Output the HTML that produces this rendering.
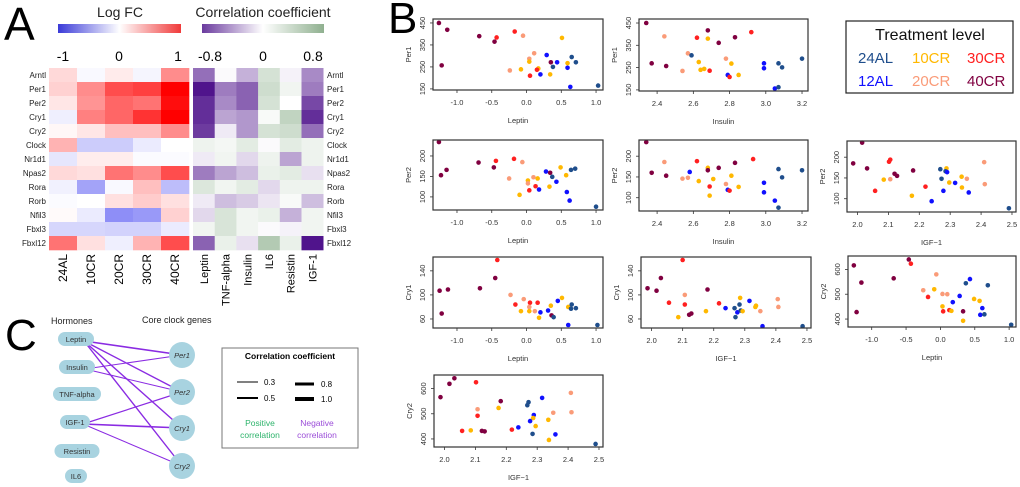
<!DOCTYPE html>
<html><head><meta charset="utf-8"><style>
html,body{margin:0;padding:0;background:#fff;}
svg{display:block;font-family:"Liberation Sans","DejaVu Sans",sans-serif;}
</style></head><body>
<svg id="fig" width="1020" height="487" viewBox="0 0 1020 487" xmlns="http://www.w3.org/2000/svg">
<defs>
<linearGradient id="gfc" x1="0" x2="1"><stop offset="0" stop-color="#3a3ad8"/><stop offset="0.5" stop-color="#ffffff"/><stop offset="1" stop-color="#f03a3a"/></linearGradient>
<linearGradient id="gcor" x1="0" x2="1"><stop offset="0" stop-color="#6a3a9e"/><stop offset="0.5" stop-color="#ffffff"/><stop offset="1" stop-color="#8fb08f"/></linearGradient>
</defs>
<g id="panelA">
<text x="4" y="40" font-size="46">A</text>
<text x="120" y="17" font-size="14" text-anchor="middle" fill="#222">Log FC</text>
<text x="263" y="17" font-size="14" text-anchor="middle" fill="#222">Correlation coefficient</text>
<rect x="58" y="24" width="123" height="9" fill="url(#gfc)"/>
<rect x="202" y="24" width="122" height="9" fill="url(#gcor)"/>
<text x="63" y="61" font-size="14" text-anchor="middle">-1</text>
<text x="119" y="61" font-size="14" text-anchor="middle">0</text>
<text x="178" y="61" font-size="14" text-anchor="middle">1</text>
<text x="210" y="61" font-size="14" text-anchor="middle">-0.8</text>
<text x="263" y="61" font-size="14" text-anchor="middle">0</text>
<text x="313" y="61" font-size="14" text-anchor="middle">0.8</text>
</g>
<g id="panelB">
<text x="388" y="33" font-size="44">B</text>
<rect x="846" y="21" width="167" height="72" fill="#fff" stroke="#222" stroke-width="1.2"/>
<text x="930" y="40" font-size="16" text-anchor="middle" fill="#111">Treatment level</text>
<text x="858" y="63" font-size="15" fill="#1f4e8c">24AL</text>
<text x="912" y="63" font-size="15" fill="#ffb800">10CR</text>
<text x="967" y="63" font-size="15" fill="#ff2020">30CR</text>
<text x="858" y="86" font-size="15" fill="#1010ff">12AL</text>
<text x="912" y="86" font-size="15" fill="#fa9b78">20CR</text>
<text x="967" y="86" font-size="15" fill="#800040">40CR</text>
</g>
<g id="panelC">
<text x="5" y="350" font-size="44">C</text>
<text x="51" y="324" font-size="9" fill="#222">Hormones</text>
<text x="142" y="323" font-size="9" fill="#222">Core clock genes</text>
<rect x="222" y="348" width="136" height="100" fill="#fff" stroke="#777" stroke-width="1"/>
<text x="290" y="359" font-size="8.5" font-weight="bold" text-anchor="middle">Correlation coefficient</text>
<line x1="237" y1="382" x2="258" y2="382" stroke="#000" stroke-width="1"/>
<line x1="237" y1="398" x2="258" y2="398" stroke="#000" stroke-width="2"/>
<line x1="295" y1="384" x2="314" y2="384" stroke="#000" stroke-width="3"/>
<line x1="295" y1="399" x2="314" y2="399" stroke="#000" stroke-width="4"/>
<text x="264" y="385" font-size="8">0.3</text>
<text x="264" y="401" font-size="8">0.5</text>
<text x="321" y="387" font-size="8">0.8</text>
<text x="321" y="402" font-size="8">1.0</text>
<text x="260" y="426" font-size="8.5" fill="#2db36b" text-anchor="middle">Positive</text>
<text x="260" y="438" font-size="8.5" fill="#2db36b" text-anchor="middle">correlation</text>
<text x="317" y="426" font-size="8.5" fill="#9b4dd8" text-anchor="middle">Negative</text>
<text x="317" y="438" font-size="8.5" fill="#9b4dd8" text-anchor="middle">correlation</text>
</g>
</svg>
<script>
var NS="http://www.w3.org/2000/svg";
var svg=document.getElementById('fig');
function mk(tag,attrs,parent){var e=document.createElementNS(NS,tag);for(var k in attrs)e.setAttribute(k,attrs[k]);(parent||svg).appendChild(e);return e;}

// ===== Panel A data =====
var genes=["Arntl","Per1","Per2","Cry1","Cry2","Clock","Nr1d1","Npas2","Rora","Rorb","Nfil3","Fbxl3","Fbxl12"];
var groupsA=["24AL","10CR","20CR","30CR","40CR"];
var hormonesA=["Leptin","TNF-alpha","Insulin","IL6","Resistin","IGF-1"];
var logFC=[
[0.15,-0.03,0.08,-0.05,0.45],
[0.18,0.45,0.7,0.75,1.0],
[0.1,0.42,0.6,0.55,0.95],
[-0.08,0.5,0.6,0.8,1.0],
[0.03,0.1,0.25,0.25,0.45],
[0.3,-0.25,-0.25,-0.1,0],
[-0.12,0.07,0.07,-0.02,-0.02],
[0.15,0.12,0.55,0.45,0.7],
[-0.07,-0.45,-0.03,0.25,-0.32],
[-0.02,0,0.12,0.2,0.12],
[0.02,-0.1,-0.55,-0.5,0.18],
[-0.2,-0.2,-0.22,-0.22,-0.1],
[0.55,0.12,-0.08,0.3,0.7]];
var corr=[
[-0.55,-0.02,-0.3,0.3,-0.05,-0.45],
[-0.9,-0.5,-0.6,0.35,0.1,-0.5],
[-0.8,-0.45,-0.6,0.3,0,-0.7],
[-0.8,-0.35,-0.4,0.05,0.45,-0.8],
[-0.75,-0.08,-0.4,0.3,0.35,-0.55],
[0.12,0.08,0.2,-0.02,0.2,0.12],
[-0.08,0.1,-0.15,0.12,-0.35,0.12],
[-0.5,-0.35,-0.25,0.15,0.2,-0.12],
[0.25,0.1,0.2,-0.15,0.12,0.12],
[-0.08,-0.25,-0.2,-0.1,0.05,-0.25],
[-0.15,0.28,0.1,0.15,-0.3,0.1],
[0.1,0.28,0.1,-0.02,-0.05,0.1],
[-0.6,0.15,-0.12,0.55,0.15,-0.9]];

function mix(a,b,t){return 'rgb('+a.map(function(v,i){return Math.round(v+(b[i]-v)*t);}).join(',')+')';}
function fcColor(v){var t=Math.min(1,Math.abs(v));return v<0?mix([255,255,255],[50,50,240],t):mix([255,255,255],[255,0,0],t);}
function corColor(v){var t=Math.min(1,Math.abs(v)/0.9);return v<0?mix([255,255,255],[80,20,140],t):mix([255,255,255],[130,168,130],t);}

var gA=document.getElementById('panelA');
var hmTop=68,rowH=14,lx0=49,lcw=28,rx0=193,rcw=21.7;
genes.forEach(function(g,r){
  var y=hmTop+r*rowH;
  var t=mk('text',{x:46,y:y+10,'font-size':8,'text-anchor':'end',fill:'#222'},gA);t.textContent=g;
  
  
  var t2=mk('text',{x:327,y:y+10,'font-size':8,fill:'#222'},gA);t2.textContent=g;
  
  
  logFC[r].forEach(function(v,c){
    var e=mk('rect',{x:lx0+c*lcw,y:y,width:lcw+0.3,height:rowH+0.3,fill:fcColor(v)},gA);
    
    
  });
  corr[r].forEach(function(v,c){
    var e=mk('rect',{x:rx0+c*rcw,y:y,width:rcw+0.3,height:rowH+0.3,fill:corColor(v)},gA);
    
    
  });
});
groupsA.forEach(function(g,c){
  var x=lx0+c*lcw+lcw/2+4;
  var t=mk('text',{x:x,y:254,'font-size':12,'text-anchor':'end',transform:'rotate(-90 '+x+' 254)'},gA);t.textContent=g;
  
  
});
hormonesA.forEach(function(g,c){
  var x=rx0+c*rcw+rcw/2+4;
  var t=mk('text',{x:x,y:254,'font-size':11,'text-anchor':'end',transform:'rotate(-90 '+x+' 254)'},gA);t.textContent=g;
  
  
});

// ===== Panel B data =====
var colorMap={A:'#1f4e8c',B:'#1010ff',Y:'#ffb800',S:'#fa9b78',R:'#ff2020',M:'#800040'};
// group codes: A=24AL, B=12AL, Y=10CR, S=20CR, R=30CR, M=40CR
var p1x=[-1.26,-1.14,-0.68,-0.46,-1.22,-0.43,-0.17,-0.05,0.51,0.11,0.04,0.04,0.29,0.65,0.35,0.44,0.71,0.59,0.38,0.59,0.17,0.15,-0.24,-0.08,0.2,0.34,0.05,0.63,1.03];
var p1y=[450,419,390,365,257,384,411,392,382,312,287,274,304,295,271,271,271,267,250,246,243,237,234,239,216,216,210,159,165];
var p1g="MMMMMRRSYSSYBAMBAYABYRSYBYRBA";
var p2x=[2.34,2.37,2.45,2.44,2.62,2.68,2.68,2.74,2.83,2.92,2.57,2.59,2.63,2.78,2.81,2.54,2.64,2.66,2.69,2.79,2.80,2.85,2.99,2.99,3.07,3.09,3.20,3.05,3.07];
var p2y=[450,269,257,390,384,417,380,361,386,409,314,305,275,290,268,235,240,244,236,217,208,217,269,247,269,251,290,156,162];
var p2g="MMMSRMYMMRSAYSYSYYRBRYBBAAABA";
var p3x=[-1.26,-1.23,-1.15,-0.69,-0.47,-0.44,-0.18,-0.06,0.49,0.64,0.70,0.57,0.28,0.34,0.37,0.10,0.16,-0.25,0.02,0.02,0.43,0.13,0.33,0.04,0.18,-0.10,0.58,0.62,1.0];
var p3y=[234,153,166,184,172,188,193,185,172,166,169,153,162,159,149,148,145,145,140,133,137,126,125,116,118,105,112,91,76];
var p3g="MMMMMRRSYAAYBMASYSYSBRYRBYBBA";
var p4x=[2.34,2.37,2.45,2.44,2.62,2.83,2.93,3.07,3.20,3.09,2.58,2.68,2.74,2.54,2.57,2.63,2.71,2.78,2.81,2.69,2.85,2.79,2.80,2.69,2.99,2.99,3.05,3.07,2.68];
var p4y=[234,160,153,186,188,184,193,169,166,149,162,172,172,146,148,140,145,133,153,127,126,119,117,105,136,113,93,76,166];
var p4g="MMMSRMRAAABYMSSYYSYRYBRYBBBAM";
var p5x=[2.015,1.986,2.031,2.106,2.102,2.085,2.106,2.057,2.12,2.128,2.18,2.22,2.176,2.268,2.288,2.285,2.29,2.272,2.297,2.316,2.337,2.354,2.338,2.278,2.24,2.36,2.41,2.412,2.49];
var p5y=[235,185,173,194,189,146,147,119,160,155,168,129,107,171,173,166,164,148,139,138,153,148,127,119,94,115,188,135,77];
var p5g="MMMRRYSRMMMRYAYABAYBYSYBBBSSA";
var p6x=[-0.42,-0.45,-1.25,-1.13,-0.67,-1.22,-0.23,-0.04,0.51,0.45,-0.16,0.05,0.16,0.04,0.35,0.60,0.65,0.64,0.71,-0.08,0.04,0.12,0.31,0.2,0.18,0.36,0.39,0.60,1.02];
var p6y=[158,128,107,109,111,69,100,93,95,90,84,87,87,80,82,80,84,77,78,73,73,73,74,71,62,66,63,50,50];
var p6g="RMMMMMSSYBRRRSYYAAAYYSBBYMABA";
var p7x=[2.10,2.03,1.987,2.016,2.18,2.107,2.056,2.107,2.217,2.285,2.315,2.283,2.406,2.408,2.336,2.334,2.35,2.238,2.267,2.175,2.276,2.287,2.293,2.121,2.128,2.086,2.27,2.357,2.486];
var p7y=[158,128,111,107,109,100,87,84,86,95,90,84,93,80,82,80,73,78,78,73,71,74,73,67,69,63,63,48,48];
var p7g="RMMMMSRRRYBASSYYSBAYBAYMMYABA";
var p8x=[-1.26,-1.15,-1.22,-0.68,-0.46,-0.43,-0.06,-0.25,-0.09,-0.18,0.03,0.10,0.03,0.04,0.13,0.16,0.33,0.33,0.18,0.28,0.37,0.43,0.49,0.57,0.61,0.58,0.64,0.69,1.03];
var p8y=[616,547,428,564,640,623,580,516,520,489,501,500,451,431,436,433,431,393,468,493,544,561,481,473,444,417,419,536,377];
var p8g="MMMMMRSSYRSSYRRYMYBBABYYBBAAA";
var p9x=[1.987,2.016,2.032,2.102,2.107,2.107,2.175,2.182,2.057,2.085,2.121,2.13,2.218,2.239,2.268,2.272,2.316,2.289,2.287,2.277,2.295,2.285,2.336,2.352,2.409,2.411,2.359,2.338,2.489];
var p9y=[566,619,641,625,518,492,523,550,432,434,432,430,437,446,534,546,563,495,483,471,451,420,476,504,583,506,418,396,380];
var p9g="MMMRSRYMRYMMRBAABBYBYAYSSSBYA";

var leptinTicks=[-1.0,-0.5,0.0,0.5,1.0];
var insulinTicks=[2.4,2.6,2.8,3.0,3.2];
var igfTicks=[2.0,2.1,2.2,2.3,2.4,2.5];
var per1Ticks=[150,250,350,450];
var per2Ticks=[100,150,200];
var cry1Ticks=[60,100,140];
var cry2Ticks=[400,500,600];

var leptinLim=[-1.345,1.10], insulinLim=[2.30,3.233], igfLim=[1.966,2.513];
var per1Lim=[145,468], per2Lim=[68,239], cry1Lim=[45,163], cry2Lim=[368,654];

var gB=document.getElementById('panelB');
function scatter(id,box,xl,yl,xt,yt,xlab,ylab,xs,ys,gs){
  var g=mk('g',{},gB);
  
  
  function sx(v){return box[0]+(v-xl[0])/(xl[1]-xl[0])*box[2];}
  function sy(v){return box[1]+box[3]-(v-yl[0])/(yl[1]-yl[0])*box[3];}
  xt.forEach(function(v){
    var x=sx(v);
    mk('line',{x1:x,y1:box[1]+box[3],x2:x,y2:box[1]+box[3]+3,stroke:'#333','stroke-width':0.8},g);
    var t=mk('text',{x:x,y:box[1]+box[3]+15,'font-size':7.5,'text-anchor':'middle',fill:'#333'},g);
    t.textContent=v.toFixed(1);
    
    
  });
  yt.forEach(function(v){
    var y=sy(v);
    mk('line',{x1:box[0]-3,y1:y,x2:box[0],y2:y,stroke:'#333','stroke-width':0.8},g);
    var tx=box[0]-8;
    var t=mk('text',{x:tx,y:y,'font-size':7.5,'text-anchor':'middle',fill:'#333',transform:'rotate(-90 '+tx+' '+y+')'},g);
    t.textContent=v;
    
    
  });
  var xlt=mk('text',{x:box[0]+box[2]/2,y:box[1]+box[3]+33,'font-size':7.5,'text-anchor':'middle',fill:'#333'},g);
  xlt.textContent=xlab;
  
  
  var ly=box[1]+box[3]/2, lx=box[0]-22;
  var ylt=mk('text',{x:lx,y:ly,'font-size':7.5,'text-anchor':'middle',fill:'#333',transform:'rotate(-90 '+lx+' '+ly+')'},g);
  ylt.textContent=ylab;
  
  
  xs.forEach(function(v,i){
    var c=mk('circle',{cx:sx(v),cy:sy(ys[i]),r:2.3,fill:colorMap[gs[i]]},g);
    
    
  });
  var r=mk('rect',{x:box[0],y:box[1],width:box[2],height:box[3],fill:'none',stroke:'#333','stroke-width':1.2},g);
  
  
}
scatter('leptin-per1',[433,19,170,71],leptinLim,per1Lim,leptinTicks,per1Ticks,'Leptin','Per1',p1x,p1y,p1g);
scatter('insulin-per1',[639,19,169,72],insulinLim,per1Lim,insulinTicks,per1Ticks,'Insulin','Per1',p2x,p2y,p2g);
scatter('leptin-per2',[433,140,170,70],leptinLim,per2Lim,leptinTicks,per2Ticks,'Leptin','Per2',p3x,p3y,p3g);
scatter('insulin-per2',[639,140,169,71],insulinLim,per2Lim,insulinTicks,per2Ticks,'Insulin','Per2',p4x,p4y,p4g);
scatter('igf1-per2',[847,141,169,71],igfLim,per2Lim,igfTicks,per2Ticks,'IGF\u22121','Per2',p5x,p5y,p5g);
scatter('leptin-cry1',[433,257,170,71],leptinLim,cry1Lim,leptinTicks,cry1Ticks,'Leptin','Cry1',p6x,p6y,p6g);
scatter('igf1-cry1',[641,257,170,71],igfLim,cry1Lim,igfTicks,cry1Ticks,'IGF\u22121','Cry1',p7x,p7y,p7g);
scatter('leptin-cry2',[848,256,168,71],leptinLim,cry2Lim,leptinTicks,cry2Ticks,'Leptin','Cry2',p8x,p8y,p8g);
scatter('igf1-cry2',[434,375,169,72],igfLim,cry2Lim,igfTicks,cry2Ticks,'IGF\u22121','Cry2',p9x,p9y,p9g);

// ===== Panel C =====
var gC=document.getElementById('panelC');
var hormNames=["Leptin","Insulin","TNF-alpha","IGF-1","Resistin","IL6"];
var hormPos=[[76,339,36],[77,367,36],[77,394,48],[75,422,30],[77,451,45],[76,476,22]];
var geneNames=["Per1","Per2","Cry1","Cry2"];
var genePos=[[182,355],[182,392],[182,428],[182,466]];
var edgeFrom=[0,0,0,0,1,1,3,3,3];
var edgeTo=[0,1,2,3,0,1,1,2,3];
var edgeR=[0.8,0.7,0.7,0.7,0.5,0.5,0.6,0.8,0.5];
edgeFrom.forEach(function(f,i){
  var h=hormPos[f],gp=genePos[edgeTo[i]];
  var l=mk('line',{x1:h[0]+8,y1:h[1]+2,x2:gp[0],y2:gp[1],stroke:'#8a2be2','stroke-width':edgeR[i]*2},gC);
  
  
});
hormNames.forEach(function(n,i){
  var p=hormPos[i];
  var r=mk('rect',{x:p[0]-p[2]/2,y:p[1]-7,width:p[2],height:14,rx:7,fill:'#a8d3e0'},gC);
  
  
  var t=mk('text',{x:p[0],y:p[1]+3,'font-size':7.5,'text-anchor':'middle',fill:'#333'},gC);t.textContent=n;
  
  
});
geneNames.forEach(function(n,i){
  var p=genePos[i];
  var c=mk('circle',{cx:p[0],cy:p[1],r:13,fill:'#a8d3e0'},gC);
  
  
  var t=mk('text',{x:p[0],y:p[1]+3,'font-size':7.5,'font-style':'italic','text-anchor':'middle',fill:'#333'},gC);t.textContent=n;
  
  
});
</script>
</body></html>
